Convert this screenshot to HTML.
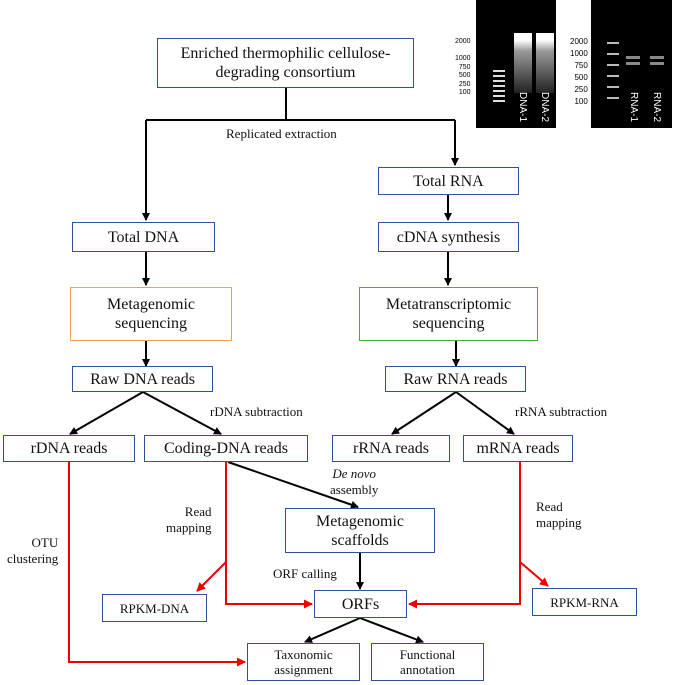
<!DOCTYPE html><html><head><style>
body{margin:0;width:676px;height:685px;background:#fff;position:relative;overflow:hidden;font-family:"Liberation Serif",serif}
.b{position:absolute;border:1.5px solid #2f5496;box-sizing:border-box;display:flex;align-items:center;justify-content:center;text-align:center;font-size:16px;line-height:19px;color:#111;background:#fff}
.s{font-size:13px;line-height:15px}
.t{position:absolute;font-size:13px;line-height:16px;color:#111;white-space:nowrap}
.g{position:absolute;background:#000}
.gl{position:absolute;font-family:"Liberation Sans",sans-serif;font-size:7px;color:#fff;line-height:8px;white-space:nowrap}
.v{position:absolute;font-family:"Liberation Sans",sans-serif;font-size:10px;color:#fff;writing-mode:vertical-rl;white-space:nowrap}
</style></head><body>
<svg width="676" height="685" style="position:absolute;left:0;top:0">
<defs>
<marker id="k" markerWidth="8" markerHeight="8" refX="7" refY="4" orient="auto" markerUnits="userSpaceOnUse"><path d="M0,0L8,4L0,8z" fill="#000"/></marker>
<marker id="r" markerWidth="9" markerHeight="9" refX="8" refY="4.5" orient="auto" markerUnits="userSpaceOnUse"><path d="M0,0L9,4.5L0,9z" fill="#e00"/></marker>
</defs>
<g stroke="#000" stroke-width="2" fill="none">
<path d="M286,88V120M146,120H455"/>
<path d="M146,120V220" marker-end="url(#k)"/>
<path d="M455,120V165" marker-end="url(#k)"/>
<path d="M448,195V220" marker-end="url(#k)"/>
<path d="M448,252V285" marker-end="url(#k)"/>
<path d="M146,252V285" marker-end="url(#k)"/>
<path d="M146,341V366" marker-end="url(#k)"/>
<path d="M456,341V366" marker-end="url(#k)"/>
<path d="M143,392L70,434" marker-end="url(#k)"/>
<path d="M143,392L221,434" marker-end="url(#k)"/>
<path d="M456,392L392,434" marker-end="url(#k)"/>
<path d="M456,392L514,434" marker-end="url(#k)"/>
<path d="M228,462L358,507" marker-end="url(#k)"/>
<path d="M360,553V589" marker-end="url(#k)"/>
<path d="M360,618L305,642" marker-end="url(#k)"/>
<path d="M360,618L423,642" marker-end="url(#k)"/>
</g>
<g stroke="#e00" stroke-width="2" fill="none">
<path d="M69,462V662H245" marker-end="url(#r)"/>
<path d="M226,462V604H312" marker-end="url(#r)"/>
<path d="M226,562L197,591" marker-end="url(#r)"/>
<path d="M520,462V604H409" marker-end="url(#r)"/>
<path d="M520,562L548,586" marker-end="url(#r)"/>
</g>
</svg>
<div class="b" style="left:157px;top:38px;width:257px;height:50px">Enriched thermophilic cellulose-<br>degrading consortium</div>
<div class="b" style="left:378px;top:167px;width:141px;height:28px">Total RNA</div>
<div class="b" style="left:72px;top:222px;width:143px;height:30px">Total DNA</div>
<div class="b" style="left:378px;top:222px;width:141px;height:30px">cDNA synthesis</div>
<div class="b" style="left:70px;top:287px;width:162px;height:54px;border-color:#f0a050">Metagenomic<br>sequencing</div>
<div class="b" style="left:359px;top:287px;width:179px;height:54px;border-color:#4aaa4a">Metatranscriptomic<br>sequencing</div>
<div class="b" style="left:72px;top:366px;width:141px;height:26px">Raw DNA reads</div>
<div class="b" style="left:385px;top:366px;width:141px;height:26px">Raw RNA reads</div>
<div class="b" style="left:3px;top:435px;width:132px;height:27px">rDNA reads</div>
<div class="b" style="left:144px;top:435px;width:164px;height:27px">Coding-DNA reads</div>
<div class="b" style="left:332px;top:435px;width:118px;height:27px">rRNA reads</div>
<div class="b" style="left:463px;top:435px;width:110px;height:27px">mRNA reads</div>
<div class="b" style="left:285px;top:508px;width:150px;height:45px">Metagenomic<br>scaffolds</div>
<div class="b" style="left:314px;top:590px;width:93px;height:28px">ORFs</div>
<div class="b s" style="left:102px;top:594px;width:105px;height:28px">RPKM-DNA</div>
<div class="b s" style="left:532px;top:588px;width:105px;height:28px">RPKM-RNA</div>
<div class="b s" style="left:247px;top:643px;width:113px;height:38px">Taxonomic<br>assignment</div>
<div class="b s" style="left:371px;top:643px;width:113px;height:38px">Functional<br>annotation</div>
<div class="t" style="left:226px;top:126px">Replicated extraction</div>
<div class="t" style="left:210px;top:404px">rDNA subtraction</div>
<div class="t" style="left:515px;top:404px">rRNA subtraction</div>
<div class="t" style="left:330px;top:466px;text-align:center"><i>De novo</i><br>assembly</div>
<div class="t" style="left:166px;top:504px;text-align:right">Read<br>mapping</div>
<div class="t" style="left:536px;top:499px">Read<br>mapping</div>
<div class="t" style="left:7px;top:535px;text-align:right">&nbsp;&nbsp;OTU<br>clustering</div>
<div class="t" style="left:273px;top:566px">ORF calling</div>
<div class="g" style="left:476px;top:0;width:80px;height:128px"></div>
<div class="g" style="left:591px;top:0;width:81px;height:128px"></div>
<div style="position:absolute;left:514px;top:33px;width:18px;height:60px;background:linear-gradient(#fff 0,#fff 12%,#999 30%,#222 100%)"></div>
<div style="position:absolute;left:536px;top:33px;width:18px;height:60px;background:linear-gradient(#fff 0,#fff 12%,#999 30%,#222 100%)"></div>
<div style="position:absolute;left:493px;top:70px;width:12px;height:34px;background:repeating-linear-gradient(#ddd 0 2px,#000 2px 5px)"></div>
<div style="position:absolute;left:607px;top:42px;width:12px;height:58px;background:repeating-linear-gradient(#bbb 0 2px,#000 2px 11px)"></div>
<div style="position:absolute;left:626px;top:56px;width:14px;height:10px;background:repeating-linear-gradient(#888 0 3px,#000 3px 6px)"></div>
<div style="position:absolute;left:650px;top:56px;width:14px;height:10px;background:repeating-linear-gradient(#888 0 3px,#000 3px 6px)"></div>
<div class="gl" style="left:455px;top:38px;color:#000;text-align:right;line-height:8.5px">2000<br><br>1000<br>750<br>500<br>250<br>100</div>
<div class="gl" style="left:570px;top:36px;color:#000;text-align:right;line-height:12px;font-size:8px">2000<br>1000<br>750<br>500<br>250<br>100</div>
<div class="v" style="left:517px;top:92px">DNA-1</div>
<div class="v" style="left:539px;top:92px">DNA-2</div>
<div class="v" style="left:628px;top:92px">RNA-1</div>
<div class="v" style="left:651px;top:92px">RNA-2</div>
</body></html>
